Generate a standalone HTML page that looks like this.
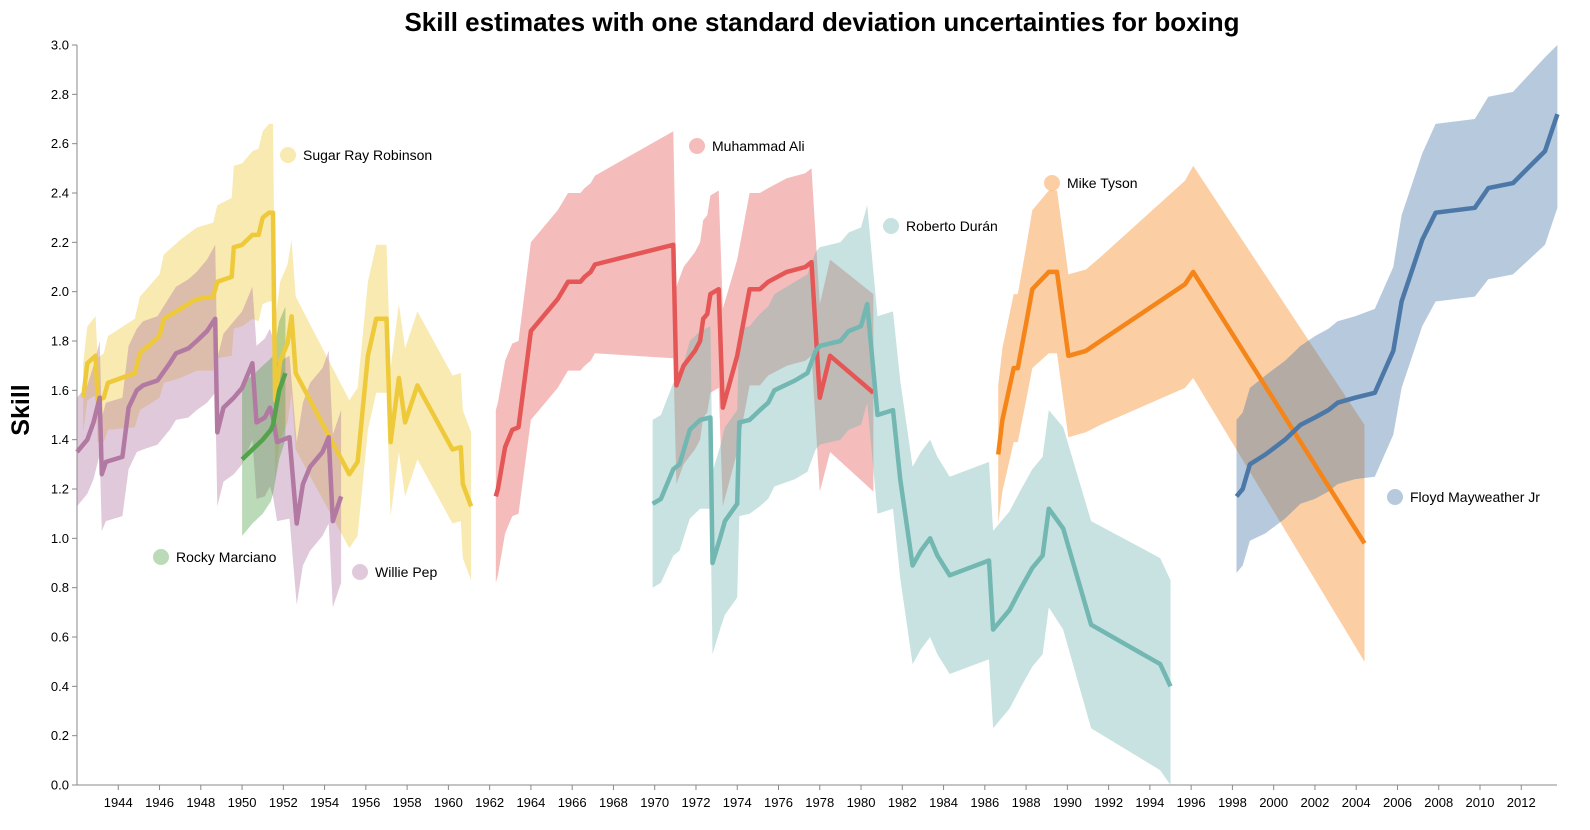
<!DOCTYPE html>
<html><head><meta charset="utf-8"><style>
html,body{margin:0;padding:0;background:#fff;}
svg{display:block;font-family:"Liberation Sans",Arial,sans-serif;}
</style></head><body>
<svg id="chart" width="1590" height="830" viewBox="0 0 1590 830">
<text x="822" y="31" text-anchor="middle" font-size="26" font-weight="bold" fill="#000">Skill estimates with one standard deviation uncertainties for boxing</text>
<text transform="translate(29,410) rotate(-90)" text-anchor="middle" font-size="25" font-weight="bold" fill="#000">Skill</text>
<g id="axes"></g><g id="bands"></g><g id="lines"></g><g id="labels"></g>
</svg>
<script>
const robYears=[1942.3,1942.5,1942.9,1943.0,1943.3,1943.5,1944.8,1945.05,1946.0,1946.2,1947.0,1947.8,1948.6,1948.8,1949.5,1949.6,1950.0,1950.5,1950.8,1951.0,1951.3,1951.5,1951.6,1951.85,1952.2,1952.4,1952.6,1955.2,1955.6,1956.1,1956.5,1957.0,1957.2,1957.6,1957.9,1958.5,1960.2,1960.6,1960.7,1961.1];
const robMean=[1.57,1.71,1.74,1.56,1.57,1.63,1.67,1.75,1.82,1.89,1.93,1.97,1.98,2.04,2.06,2.18,2.19,2.23,2.23,2.30,2.32,2.32,1.56,1.72,1.79,1.90,1.67,1.26,1.31,1.74,1.89,1.89,1.39,1.65,1.47,1.62,1.36,1.37,1.22,1.13];
const robSd=[0.14,0.15,0.16,0.17,0.18,0.19,0.22,0.23,0.25,0.26,0.28,0.29,0.30,0.31,0.32,0.33,0.33,0.34,0.35,0.35,0.36,0.36,0.32,0.32,0.32,0.31,0.31,0.30,0.30,0.30,0.30,0.30,0.30,0.30,0.30,0.30,0.30,0.30,0.30,0.30];
const pepYears=[1942.0,1942.5,1942.8,1943.1,1943.2,1943.4,1944.2,1944.5,1944.9,1945.2,1945.9,1946.5,1946.8,1947.4,1947.8,1948.3,1948.7,1948.8,1949.1,1949.6,1950.0,1950.5,1950.7,1951.1,1951.35,1951.5,1951.7,1952.3,1952.65,1952.95,1953.3,1953.9,1954.2,1954.4,1954.8];
const pepMean=[1.35,1.40,1.47,1.57,1.26,1.31,1.33,1.53,1.60,1.62,1.64,1.71,1.75,1.77,1.80,1.84,1.89,1.43,1.53,1.57,1.61,1.71,1.47,1.49,1.53,1.49,1.39,1.41,1.06,1.22,1.29,1.35,1.41,1.07,1.17];
const pepSd=[0.22,0.22,0.23,0.23,0.23,0.24,0.24,0.25,0.25,0.26,0.26,0.27,0.27,0.28,0.28,0.29,0.30,0.30,0.30,0.31,0.31,0.31,0.31,0.32,0.32,0.32,0.32,0.33,0.33,0.33,0.34,0.34,0.35,0.35,0.35];
const rocYears=[1950.0,1950.5,1951.0,1951.4,1951.5,1951.8,1952.1];
const rocMean=[1.32,1.36,1.40,1.44,1.46,1.60,1.67];
const rocSd=[0.31,0.30,0.30,0.29,0.28,0.28,0.27];
const aliYears=[1962.3,1962.4,1962.75,1963.1,1963.4,1964.0,1965.3,1965.8,1966.4,1966.6,1966.9,1967.1,1970.9,1971.05,1971.4,1971.95,1972.2,1972.35,1972.55,1972.7,1973.1,1973.3,1974.0,1974.6,1975.1,1975.5,1976.4,1977.3,1977.6,1978.0,1978.5,1980.6];
const aliMean=[1.17,1.20,1.37,1.44,1.45,1.84,1.97,2.04,2.04,2.06,2.08,2.11,2.19,1.62,1.70,1.76,1.80,1.89,1.91,1.99,2.01,1.53,1.74,2.01,2.01,2.04,2.08,2.10,2.12,1.57,1.74,1.59];
const aliSd=[0.35,0.35,0.35,0.35,0.35,0.36,0.36,0.36,0.36,0.36,0.36,0.36,0.46,0.40,0.40,0.40,0.40,0.40,0.40,0.40,0.40,0.40,0.39,0.39,0.39,0.38,0.38,0.38,0.38,0.38,0.39,0.40];
const durYears=[1969.9,1970.3,1970.9,1971.2,1971.7,1972.2,1972.7,1972.8,1973.2,1973.4,1974.0,1974.1,1974.6,1975.1,1975.5,1975.8,1976.8,1977.4,1977.8,1978.0,1979.0,1979.4,1980.0,1980.3,1980.8,1981.55,1981.9,1982.5,1982.9,1983.35,1983.7,1984.3,1986.2,1986.4,1987.2,1987.7,1988.3,1988.8,1989.1,1989.8,1991.15,1994.5,1995.0];
const durMean=[1.14,1.16,1.28,1.30,1.44,1.48,1.49,0.90,1.01,1.07,1.14,1.47,1.48,1.52,1.55,1.60,1.64,1.67,1.76,1.78,1.80,1.84,1.86,1.95,1.50,1.52,1.24,0.89,0.95,1.00,0.93,0.85,0.91,0.63,0.71,0.79,0.88,0.93,1.12,1.04,0.65,0.49,0.40];
const durSd=[0.34,0.34,0.35,0.35,0.36,0.36,0.37,0.37,0.37,0.38,0.38,0.38,0.38,0.39,0.39,0.39,0.40,0.40,0.40,0.40,0.40,0.40,0.40,0.40,0.40,0.40,0.40,0.40,0.40,0.40,0.40,0.40,0.40,0.40,0.40,0.40,0.40,0.40,0.40,0.41,0.42,0.43,0.43];
const tysYears=[1986.65,1986.85,1987.4,1987.6,1988.0,1988.3,1989.1,1989.5,1990.05,1990.9,1991.6,1995.7,1996.1,2004.4];
const tysMean=[1.34,1.48,1.69,1.69,1.87,2.01,2.08,2.08,1.74,1.76,1.80,2.03,2.08,0.98];
const tysSd=[0.28,0.29,0.30,0.30,0.31,0.32,0.33,0.33,0.33,0.33,0.34,0.42,0.43,0.48];
const mayYears=[1998.2,1998.5,1998.85,1999.6,2000.55,2001.3,2002.0,2002.65,2003.1,2003.95,2004.9,2005.8,2006.2,2006.8,2007.2,2007.85,2009.75,2010.4,2011.6,2013.15,2013.75];
const mayMean=[1.17,1.20,1.30,1.34,1.40,1.46,1.49,1.52,1.55,1.57,1.59,1.76,1.96,2.11,2.21,2.32,2.34,2.42,2.44,2.57,2.72];
const maySd=[0.31,0.31,0.31,0.32,0.32,0.32,0.33,0.33,0.33,0.33,0.34,0.34,0.35,0.35,0.35,0.36,0.36,0.37,0.37,0.38,0.38];
const yTicks=[0,0.2,0.4,0.6,0.8,1.0,1.2,1.4,1.6,1.8,2.0,2.2,2.4,2.6,2.8,3.0];
const xTicks=[];for(let y=1944;y<=2012;y+=2)xTicks.push(y);

const NS='http://www.w3.org/2000/svg';
const X0=77,X1=1557,Y0=785,Y1=45;
function xs(yr){return X0+(yr-1942)*(1521-118)/68;}
function ys(v){return Y0-(v)*(Y0-Y1)/3;}
function mk(tag,attrs,parent){const e=document.createElementNS(NS,tag);for(const k in attrs)e.setAttribute(k,attrs[k]);parent.appendChild(e);return e;}
const axes=document.getElementById('axes');
let a=mk('line',{x1:X0,y1:Y1,x2:X0,y2:Y0,stroke:'#888'},axes);


a=mk('line',{x1:X0,y1:Y0,x2:X1,y2:Y0,stroke:'#888'},axes);


yTicks.forEach(v=>{
  const y=ys(v);
  const t=mk('line',{x1:X0-5,y1:y,x2:X0,y2:y,stroke:'#888'},axes);
  
  
  const l=mk('text',{x:X0-8,y:y+4.5,'text-anchor':'end','font-size':13,fill:'#000'},axes);
  l.textContent=v.toFixed(1);
  
  
});
xTicks.forEach(v=>{
  const x=xs(v);
  const t=mk('line',{x1:x,y1:Y0,x2:x,y2:Y0+5,stroke:'#888'},axes);
  
  
  const l=mk('text',{x:x,y:Y0+22,'text-anchor':'middle','font-size':13,fill:'#000'},axes);
  l.textContent=v;
  
  
});
const series=[
 ['sugar-ray-robinson',robYears,robMean,robSd,'#eeca3b'],
 ['willie-pep',pepYears,pepMean,pepSd,'#b279a2'],
 ['rocky-marciano',rocYears,rocMean,rocSd,'#54a24b'],
 ['muhammad-ali',aliYears,aliMean,aliSd,'#e45756'],
 ['roberto-duran',durYears,durMean,durSd,'#72b7b2'],
 ['mike-tyson',tysYears,tysMean,tysSd,'#f58518'],
 ['floyd-mayweather',mayYears,mayMean,maySd,'#4c78a8']
];
const bands=document.getElementById('bands'),lines=document.getElementById('lines');
series.forEach(([name,yr,m,sd,c])=>{
  const up=yr.map((y,i)=>xs(y).toFixed(1)+','+ys(Math.min(m[i]+sd[i],3.0)).toFixed(1));
  const lo=yr.map((y,i)=>xs(y).toFixed(1)+','+ys(Math.max(m[i]-sd[i],0)).toFixed(1)).reverse();
  const b=mk('polygon',{points:up.concat(lo).join(' '),fill:c,'fill-opacity':0.4},bands);
  
  
  const l=mk('polyline',{points:yr.map((y,i)=>xs(y).toFixed(1)+','+ys(m[i]).toFixed(1)).join(' '),fill:'none',stroke:c,'stroke-width':4.5,'stroke-linejoin':'round'},lines);
  
  
});
const labs=[
 ['Sugar Ray Robinson',288,155,'#eeca3b','sugar-ray-robinson-label'],
 ['Muhammad Ali',697,146,'#e45756','muhammad-ali-label'],
 ['Mike Tyson',1052,183,'#f58518','mike-tyson-label'],
 ['Roberto Durán',891,226,'#72b7b2','roberto-duran-label'],
 ['Floyd Mayweather Jr',1395,497,'#4c78a8','floyd-mayweather-label'],
 ['Rocky Marciano',161,557,'#54a24b','rocky-marciano-label'],
 ['Willie Pep',360,572,'#b279a2','willie-pep-label']
];
const lg=document.getElementById('labels');
labs.forEach(([t,x,y,c,n])=>{
  const g=mk('g',{},lg);
  
  
  mk('circle',{cx:x,cy:y,r:8,fill:c,'fill-opacity':0.4},g);
  const tx=mk('text',{x:x+15,y:y+5,'font-size':14,fill:'#000'},g);
  tx.textContent=t;
});
</script>
</body></html>
